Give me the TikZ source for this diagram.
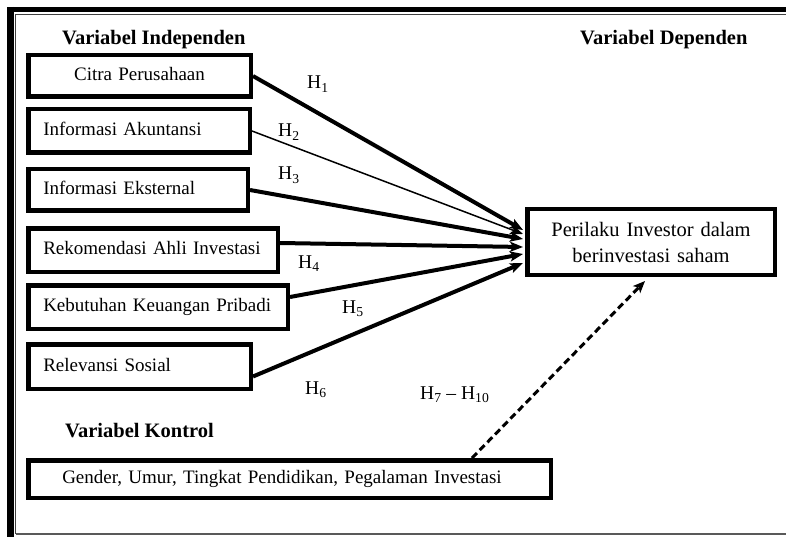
\documentclass[tikz,border=0pt]{standalone}
\usepackage{fontspec}
\setmainfont{Liberation Serif}
\usetikzlibrary{arrows.meta,calc}
\begin{document}
\begin{tikzpicture}[x=1pt,y=-1pt,
  boxbase/.style={draw, line width=4.5pt, inner xsep=15pt, inner ysep=0pt, align=left,
    font=\fontsize{19}{23}\selectfont},
  vbox/.style={boxbase, text height=13pt, text depth=4pt},
  head/.style={font=\fontsize{20.5}{24}\selectfont\bfseries, anchor=base west, inner sep=0pt},
  hlab/.style={font=\fontsize{19.5}{23}\selectfont, anchor=base west, inner sep=0pt},
  tipstyle/.style={-{Stealth[length=13pt,width=10pt,inset=3pt]}},
  thickarr/.style={tipstyle, line width=4pt},
  thinarr/.style={tipstyle, line width=1.5pt},
  dasharr/.style={line width=3pt, dash pattern=on 7pt off 4pt,
    -{Stealth[length=12pt,width=10pt,inset=3pt]}},
]
\path[use as bounding box, fill=white] (0,0) rectangle (786,537);

% outer frame
\draw[line width=7pt] (10.5,7) -- (10.5,537);
\draw[line width=5pt] (7,9.5) -- (786,9.5);
\draw[line width=1pt, black!75] (15.5,533.5) -- (15.5,14.5) -- (786,14.5);
\draw[line width=1.5pt, black!65] (15.5,534) -- (786,534);

% headers
\node[head] (hind) at (62,45) {Variabel Independen};
\node[head] (hdep) at (580,45) {Variabel Dependen};
\node[head] (hkon) at (65,437) {Variabel Kontrol};

% independent variables
\node[vbox, align=center, minimum width=222.5pt, minimum height=41.5pt, text width=192.5pt] (citra) at (139.5,76) {Citra Perusahaan};
\node[vbox, minimum width=221.5pt, minimum height=43.5pt, text width=191.5pt] (akun) at (139,131) {Informasi Akuntansi};
\node[vbox, minimum width=219.5pt, minimum height=41.5pt, text width=189.5pt] (eks) at (138,190) {Informasi Eksternal};
\node[vbox, minimum width=249.5pt, minimum height=43.5pt, text width=219.5pt] (rek) at (153,250) {Rekomendasi Ahli Investasi};
\node[vbox, minimum width=259.5pt, minimum height=43.5pt, text width=229.5pt] (keb) at (158,307) {Kebutuhan Keuangan Pribadi};
\node[vbox, minimum width=222.5pt, minimum height=44.5pt, text width=192.5pt] (rel) at (139.5,366.5) {Relevansi Sosial};

% control
\node[vbox, inner xsep=34pt, minimum width=522.5pt, minimum height=37.5pt, text width=454.5pt] (gen) at (289.5,479) {Gender, Umur, Tingkat Pendidikan, Pegalaman Investasi};

% dependent
\node[boxbase, align=center, font=\fontsize{20.5}{26}\selectfont, minimum width=247.5pt, minimum height=65.5pt, text width=217.5pt] (per) at (651,242) {Perilaku Investor dalam\\berinvestasi saham};

% hypothesis labels
\node[hlab] (h1) at (307,89) {H\textsubscript{1}};
\node[hlab] (h2) at (278,137) {H\textsubscript{2}};
\node[hlab] (h3) at (278,180) {H\textsubscript{3}};
\node[hlab] (h4) at (298,268) {H\textsubscript{4}};
\node[hlab] (h5) at (342,313) {H\textsubscript{5}};
\node[hlab] (h6) at (305,394) {H\textsubscript{6}};
\node[hlab] (h7) at (420,399) {H\textsubscript{7} -- H\textsubscript{10}};

% connectors
\draw[thickarr] (citra.east) -- ($(per.west)+(-2,-12)$);
\draw[thinarr] (akun.east) -- ($(per.west)+(-2,-8)$);
\draw[thickarr] (eks.east) -- ($(per.west)+(-2,-3)$);
\draw[thickarr] ($(rek.east)+(0,-7)$) -- ($(per.west)+(-2,5)$);
\draw[thickarr] ($(keb.east)+(0,-10)$) -- ($(per.west)+(-2,12)$);
\draw[thickarr] ($(rel.east)+(0,10)$) -- ($(per.west)+(-2,21)$);
\draw[dasharr] ($(gen.north)+(182.5,0)$) -- ($(per.south)+(-6,4)$);
\end{tikzpicture}
\end{document}
